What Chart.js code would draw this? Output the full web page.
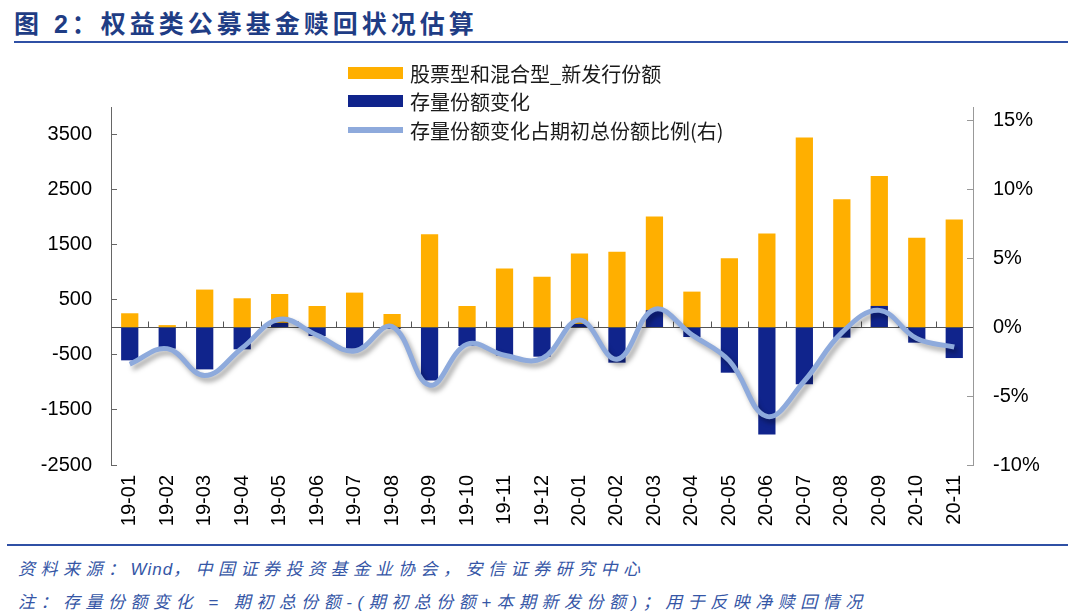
<!DOCTYPE html>
<html>
<head>
<meta charset="utf-8">
<script src="https://cdn.jsdelivr.net/npm/chart.js"></script>
<style>
  body { margin: 0; width: 1080px; height: 616px; background: #fff; position: relative; overflow: hidden;
         font-family: "Liberation Sans", "Noto Sans CJK SC", sans-serif; }
  #title { position: absolute; left: 14px; top: 4px; font: bold 25px "Liberation Sans", "Noto Sans CJK SC";
           letter-spacing: 4px; color: #1f3d85; white-space: nowrap; }
  .rule { position: absolute; height: 2px; background: #2f50a5; }
  #box { position: absolute; left: 0; top: 50px; width: 1080px; height: 490px; }
  .lg { position: absolute; left: 348px; font: 20px "Noto Sans CJK SC"; color: #1a1a1a; white-space: nowrap; }
  .lg i { position: absolute; left: 0; width: 55px; }
  .lg span { position: absolute; left: 62px; top: -14px; }
  .note { position: absolute; left: 18px; font: italic 17px "Liberation Sans", "Noto Sans CJK SC";
          letter-spacing: 5.5px; color: #3556a6; white-space: nowrap; }
  .note b { font-weight: normal; letter-spacing: 1px; }
</style>
</head>
<body>
<div id="title">图 2：权益类公募基金赎回状况估算</div>
<div class="rule" style="left:14px; top:41px; width:1054px;"></div>

<div id="box"><canvas id="c"></canvas></div>

<div class="lg" style="top:73px"><i style="top:-6px;height:12px;background:#ffaf00"></i><span>股票型和混合型_新发行份额</span></div>
<div class="lg" style="top:101px"><i style="top:-6px;height:12px;background:#10248c"></i><span>存量份额变化</span></div>
<div class="lg" style="top:130px"><i style="top:-3px;height:6px;background:#8eaadc"></i><span>存量份额变化占期初总份额比例(右)</span></div>

<div class="rule" style="left:7px; top:544px; width:1061px;"></div>
<div class="note" style="top:555px">资料来源：<b>Wind</b>，中国证券投资基金业协会，安信证券研究中心</div>
<div class="note" style="top:588px">注：存量份额变化 = 期初总份额-(期初总份额+本期新发份额)；用于反映净赎回情况</div>

<script>
const months = ['19-01','19-02','19-03','19-04','19-05','19-06','19-07','19-08','19-09','19-10','19-11','19-12',
                '20-01','20-02','20-03','20-04','20-05','20-06','20-07','20-08','20-09','20-10','20-11'];
// 股票型和混合型_新发行份额 (亿份)
const newIssue = [255, 40, 685, 527, 605, 387, 630, 242, 1690, 387, 1070, 920,
                  1340, 1370, 2010, 648, 1255, 1703, 3448, 2327, 2745, 1624, 1958];
// 存量份额变化
const shareChange = [-600, -388, -764, -400, 80, -158, -388, -30, -964, -340, -510, -533,
                     60, -642, 310, -176, -824, -1945, -1036, -188, 388, -279, -558];
// 存量份额变化占期初总份额比例 (%)
const changeRatio = [-2.68, -1.55, -3.5, -1.5, 0.58, -0.58, -1.72, 0.05, -4.2, -1.23, -2.03, -2.27,
                     0.53, -2.32, 1.3, -0.55, -2.44, -6.47, -3.9, -0.39, 1.23, -0.82, -1.43];
const leftTicks = [-2500, -1500, -500, 500, 1500, 2500, 3500];
const rightTicks = [-10, -5, 0, 5, 10, 15];

const axisFont = { family: 'Liberation Sans', size: 20 };

// zero line + small marks between months, and a soft shadow under the ratio line
const extras = {
  id: 'extras',
  beforeDatasetDraw(chart, args) {
    if (args.meta.type !== 'line') return;
    const { ctx, chartArea: a, scales: { x, y } } = chart;
    const y0 = Math.round(y.getPixelForValue(0)) + 0.5;
    ctx.save();
    ctx.strokeStyle = '#555';
    ctx.lineWidth = 1;
    ctx.beginPath();
    ctx.moveTo(a.left, y0);
    ctx.lineTo(a.right, y0);
    for (let i = 0; i < months.length - 1; i++) {
      const xb = Math.round((x.getPixelForValue(i) + x.getPixelForValue(i + 1)) / 2) + 0.5;
      ctx.moveTo(xb, y0);
      ctx.lineTo(xb, y0 - 6);
    }
    ctx.stroke();
    ctx.restore();
    ctx.save();
    ctx.shadowColor = 'rgba(0,0,0,0.35)';
    ctx.shadowBlur = 5;
    ctx.shadowOffsetX = 3;
    ctx.shadowOffsetY = 4;
  },
  afterDatasetDraw(chart, args) {
    if (args.meta.type === 'line') chart.ctx.restore();
  }
};

new Chart(document.getElementById('c'), {
  data: {
    labels: months,
    datasets: [
      { type: 'bar', label: '股票型和混合型_新发行份额', data: newIssue, backgroundColor: '#ffaf00',
        grouped: false, order: 2, yAxisID: 'y', barPercentage: 0.46, categoryPercentage: 1 },
      { type: 'bar', label: '存量份额变化', data: shareChange, backgroundColor: '#10248c',
        grouped: false, order: 1, yAxisID: 'y', barPercentage: 0.46, categoryPercentage: 1 },
      { type: 'line', label: '存量份额变化占期初总份额比例(右)', data: changeRatio, borderColor: '#8eaadc',
        borderWidth: 5, tension: 0.4, pointRadius: 0, order: 0, yAxisID: 'y1', borderCapStyle: 'butt' }
    ]
  },
  options: {
    responsive: true,
    maintainAspectRatio: false,
    animation: false,
    layout: { padding: { top: 57, left: 0, right: 0, bottom: 0 } },
    plugins: { legend: { display: false }, tooltip: { enabled: false } },
    scales: {
      x: {
        offset: true,
        grid: { display: false, drawTicks: false },
        border: { display: false },
        ticks: { minRotation: 90, maxRotation: 90, padding: 10, color: '#000', font: axisFont, autoSkip: false },
        afterFit: s => { s.height = 75; }
      },
      y: {
        position: 'left', min: -2500, max: 4000,
        afterBuildTicks: s => { s.ticks = leftTicks.map(v => ({ value: v })); },
        afterFit: s => { s.width = 111; },
        grid: { drawOnChartArea: false, tickLength: -6, color: '#666' },
        border: { color: '#666' },
        ticks: { padding: 25, color: '#000', font: axisFont, callback: v => String(v) }
      },
      y1: {
        position: 'right', min: -10, max: 16,
        afterBuildTicks: s => { s.ticks = rightTicks.map(v => ({ value: v })); },
        afterFit: s => { s.width = 107; },
        grid: { drawOnChartArea: false, tickLength: -6, color: '#999' },
        border: { color: '#999' },
        ticks: { padding: 26, color: '#000', font: axisFont, callback: v => v + '%' }
      }
    }
  },
  plugins: [extras]
});
</script>
</body>
</html>
